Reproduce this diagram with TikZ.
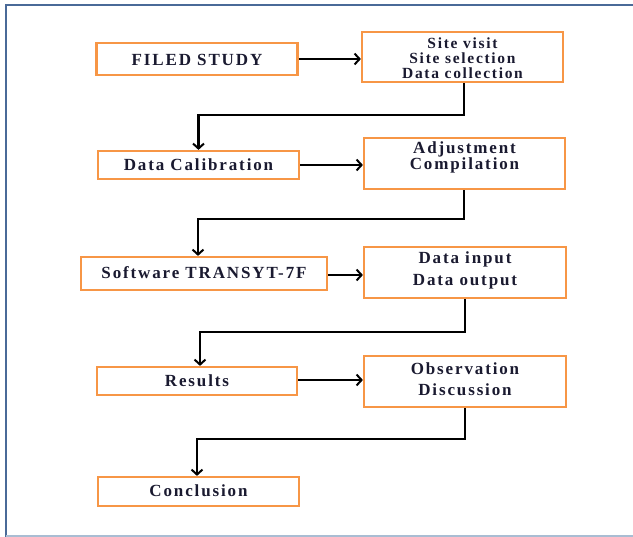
\documentclass[tikz,border=0pt]{standalone}
\usepackage{fontspec}
\setmainfont{Liberation Serif}[LetterSpace=11]
\usetikzlibrary{arrows.meta}
\definecolor{boxorange}{HTML}{F79646}
\definecolor{framedark}{HTML}{4A6A98}
\definecolor{framelight}{HTML}{A9BDD3}
\definecolor{txt}{HTML}{1A1A30}
\tikzset{
  box/.style={draw=boxorange, line width=2.2pt, fill=white, inner sep=0pt},
  lbl/.style={font=\fontsize{17}{14.5}\selectfont\bfseries, text=txt, align=center, inner sep=0pt},
  lbltight/.style={lbl, font=\fontsize{15.5}{15}\selectfont\bfseries},
  lblwide/.style={lbl, font=\fontsize{17}{21.5}\selectfont\bfseries},
  conn/.style={draw=black, line width=2.4pt, -{Straight Barb[length=5pt,width=11pt,line width=2pt]}},
}
\begin{document}
\begin{tikzpicture}[x=1pt,y=-1pt]
\useasboundingbox (0,0) rectangle (633,537);
% outer frame
\draw[framedark, line width=2.5pt] (6,537) -- (6,5) -- (633,5);
\draw[framelight, line width=1.5pt] (6,536) -- (633,536);

% boxes
\node[box, minimum width=201pt, minimum height=32pt] (field) at (197,59) {};
\node[box, minimum width=201pt, minimum height=50pt] (site) at (462.5,57) {};
\node[box, minimum width=201pt, minimum height=28pt] (cal) at (198.5,165) {};
\node[box, minimum width=201pt, minimum height=51pt] (adj) at (464.5,163.5) {};
\node[box, minimum width=246pt, minimum height=33pt] (soft) at (204,273.5) {};
\node[box, minimum width=202pt, minimum height=51pt] (din) at (465,272.5) {};
\node[box, minimum width=200pt, minimum height=28pt] (res) at (197,381) {};
\node[box, minimum width=202pt, minimum height=51pt] (obs) at (465,381.5) {};
\node[box, minimum width=201pt, minimum height=29pt] (conc) at (198.5,491.5) {};

% texts
\node[lbl] (tfield) at (197,60) {FILED STUDY};
\node[lbltight] (tsite) at (462.5,58) {Site visit\\Site selection\\Data collection};
\node[lbl, font=\fontsize{17}{15.5}\selectfont\bfseries] (tadj) at (464.5,157.5) {Adjustment\\Compilation};
\node[lbl] (tcal) at (198.5,165) {Data Calibration};
\node[lbl] (tsoft) at (204,273) {Software TRANSYT-7F};
\node[lblwide] (tdin) at (465,270.5) {Data input\\Data output};
\node[lbl] (tres) at (197,381) {Results};
\node[lblwide] (tobs) at (465,379) {Observation\\Discussion};
\node[lbl] (tconc) at (198.5,491) {Conclusion};

% horizontal connectors
\draw[conn] (field.east) -- (field.east -| site.west);
\draw[conn] (cal.east) -- (cal.east -| adj.west);
\draw[conn] ([yshift=-1.5pt]soft.east) -- ([yshift=-1.5pt]soft.east -| din.west);
\draw[conn] ([yshift=1pt]res.east) -- ([yshift=1pt]res.east -| obs.west);

% elbow connectors
\coordinate (k1) at (464,115);
\coordinate (k2) at (464,219);
\coordinate (k3) at (465,332);
\coordinate (k4) at (465,439);
\draw[conn] (site.south -| k1) -- (k1) -| (cal.north);
\draw[conn] (adj.south -| k2) -- (k2) -| ([xshift=-6pt]soft.north);
\draw[conn] (din.south -| k3) -- (k3) -| ([xshift=3pt]res.north);
\draw[conn] (obs.south -| k4) -- (k4) -| ([xshift=-1.5pt]conc.north);
\end{tikzpicture}
\end{document}
